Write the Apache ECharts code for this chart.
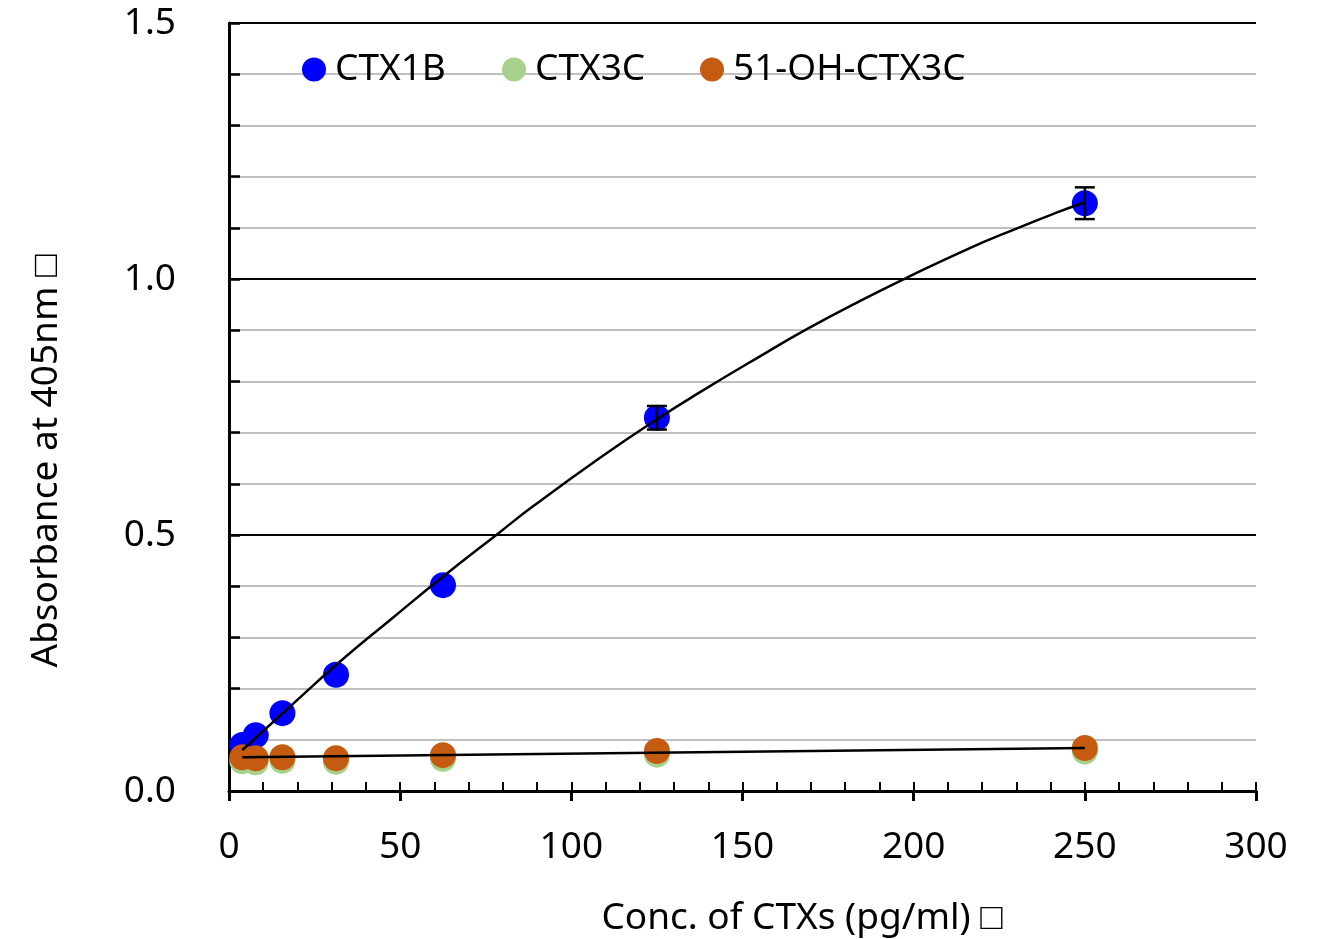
<!DOCTYPE html>
<html>
<head>
<meta charset="utf-8">
<script src="https://cdn.jsdelivr.net/npm/echarts@6/dist/echarts.min.js"></script>
<style>
html,body{margin:0;padding:0;background:#fff;}
#chart{width:1337px;height:939px;}
</style>
</head>
<body>
<div id="chart"></div>
<script>
// ---- data ----
const conc = [3.9, 7.8, 15.6, 31.25, 62.5, 125, 250];
const ctx1b = [0.090, 0.109, 0.152, 0.227, 0.402, 0.729, 1.148];
const ctx1bErr = [0, 0, 0, 0, 0, 0.023, 0.031];
const ctx3c = [0.058, 0.056, 0.059, 0.057, 0.063, 0.071, 0.077];
const ohCtx3c = [0.066, 0.064, 0.066, 0.064, 0.070, 0.078, 0.084];
const fitConc1b = [3.9, 19.5, 32.1, 47.6, 62.2, 79.2, 88.8, 108.4, 125, 137.6, 155.1, 168.8, 186.4, 196.9, 215.6, 230.2, 241.9, 250];
const fitVal1b = [0.080, 0.175, 0.251, 0.337, 0.417, 0.506, 0.556, 0.651, 0.726, 0.779, 0.849, 0.902, 0.964, 0.999, 1.058, 1.099, 1.130, 1.150];
const fitConcLow = [3.9, 250];
const fitValLow = [0.066, 0.084];
const seriesNames = ['CTX1B', 'CTX3C', '51-OH-CTX3C'];
const xTitle = 'Conc. of CTXs (pg/ml) \u25A1';
const yTitle = 'Absorbance at 405nm \u25A1';

const FONT = 'Noto Sans';
const FS = 37;
const pair = (xs, ys) => xs.map((x, i) => [x, ys[i]]);

const chart = echarts.init(document.getElementById('chart'));
const legendBase = {
  top: 46, itemWidth: 24, itemHeight: 24, icon: 'circle', selectedMode: false,
  textStyle: { fontFamily: FONT, fontSize: FS, color: '#000', padding: [0, 0, 0, 4] }
};
chart.setOption({
  animation: false,
  backgroundColor: '#fff',
  grid: { left: 229, right: 81, top: 23, bottom: 148 },
  legend: [
    Object.assign({}, legendBase, { left: 297, data: [seriesNames[0]] }),
    Object.assign({}, legendBase, { left: 497, data: [seriesNames[1]] }),
    Object.assign({}, legendBase, { left: 695, data: [seriesNames[2]] })
  ],
  xAxis: [{
    type: 'value', min: 0, max: 300, interval: 10,
    axisLine: { lineStyle: { color: '#000', width: 3 } },
    axisTick: { inside: true, length: 9, lineStyle: { color: '#000', width: 2 } },
    axisLabel: {
      margin: 38, fontFamily: FONT, fontSize: FS, color: '#000',
      showMinLabel: true, showMaxLabel: true,
      formatter: v => (Math.round(v) % 50 === 0 ? String(Math.round(v)) : '')
    },
    splitLine: { show: false }
  }, {
    type: 'value', min: 0, max: 300, interval: 50, position: 'bottom',
    axisLine: { show: false },
    axisTick: { inside: false, length: 10, lineStyle: { color: '#000', width: 3 } },
    axisLabel: { show: false },
    splitLine: { show: false }
  }],
  yAxis: {
    type: 'value', min: 0, max: 1.5, interval: 0.1,
    axisLine: { show: true, lineStyle: { color: '#000', width: 3 } },
    axisTick: { show: true, inside: true, length: 11, lineStyle: { color: '#000', width: 2.5 } },
    axisLabel: {
      margin: 53, fontFamily: FONT, fontSize: FS, color: '#000', padding: [8, 0, 0, 0],
      formatter: v => (Math.round(v * 10) % 5 === 0 ? v.toFixed(1) : '')
    },
    splitLine: { show: true, lineStyle: { color: ['#000', '#c0c0c0', '#c0c0c0', '#c0c0c0', '#c0c0c0'], width: 2 } }
  },
  graphic: [
    { type: 'text', x: 802, y: 918,
      style: { text: xTitle, font: FS + 'px "' + FONT + '"', fill: '#000', textAlign: 'center', textVerticalAlign: 'middle' } },
    { type: 'text', rotation: Math.PI / 2, x: 46, y: 461,
      style: { text: yTitle, font: FS + 'px "' + FONT + '"', fill: '#000', textAlign: 'center', textVerticalAlign: 'middle' } }
  ],
  series: [
    { name: seriesNames[1], type: 'scatter', data: pair(conc, ctx3c), symbolSize: 26,
      itemStyle: { color: '#A9D18E', opacity: 1 }, z: 2 },
    { name: seriesNames[0], type: 'scatter', data: pair(conc, ctx1b), symbolSize: 26,
      itemStyle: { color: '#0000FF', opacity: 1 }, z: 3 },
    { name: seriesNames[2], type: 'scatter', data: pair(conc, ohCtx3c), symbolSize: 26,
      itemStyle: { color: '#C55A11', opacity: 1 }, z: 4 },
    { type: 'custom', z: 5, silent: true,
      data: conc.map((c, i) => [c, ctx1b[i], ctx1bErr[i]]),
      renderItem: (params, api) => {
        const e = api.value(2);
        if (!e) return null;
        const x = api.value(0), y = api.value(1);
        const top = api.coord([x, y + e]);
        const bot = api.coord([x, y - e]);
        const hw = 10;
        const st = { stroke: '#000', lineWidth: 2.5 };
        return { type: 'group', children: [
          { type: 'line', shape: { x1: top[0], y1: top[1], x2: bot[0], y2: bot[1] }, style: st },
          { type: 'line', shape: { x1: top[0] - hw, y1: top[1], x2: top[0] + hw, y2: top[1] }, style: st },
          { type: 'line', shape: { x1: bot[0] - hw, y1: bot[1], x2: bot[0] + hw, y2: bot[1] }, style: st }
        ]};
      }
    },
    { type: 'line', data: pair(fitConc1b, fitVal1b), smooth: true, showSymbol: false, symbol: 'none',
      lineStyle: { color: '#000', width: 2.5 }, z: 6, silent: true },
    { type: 'line', data: pair(fitConcLow, fitValLow), showSymbol: false, symbol: 'none',
      lineStyle: { color: '#000', width: 2.5 }, z: 6, silent: true }
  ]
});
</script>
</body>
</html>
